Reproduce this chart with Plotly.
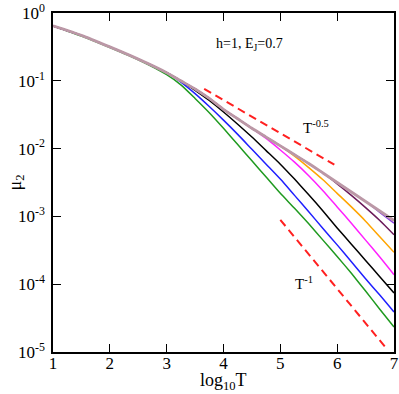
import numpy as np
import plotly.graph_objects as go

# log10(T) sample points
log_t = [1, 1.5, 2, 2.5, 3, 3.25, 3.5, 3.75, 4, 4.25, 4.5, 4.75, 5,
         5.25, 5.5, 5.75, 6, 6.25, 6.5, 6.75, 7]

# log10(mu_2), one list per curve
mu_gray = [-0.19, -0.33, -0.50, -0.68, -0.88, -1.00, -1.12, -1.26, -1.42, -1.56, -1.70,
           -1.83, -1.96, -2.09, -2.22, -2.36, -2.50, -2.64, -2.78, -2.92, -3.06]
mu_violet = [-0.19, -0.33, -0.50, -0.68, -0.88, -1.00, -1.12, -1.26, -1.42, -1.56, -1.70,
             -1.83, -1.96, -2.09, -2.22, -2.36, -2.50, -2.64, -2.78, -2.94, -3.10]
mu_maroon = [-0.19, -0.33, -0.50, -0.68, -0.88, -1.00, -1.12, -1.26, -1.42, -1.56, -1.70,
             -1.83, -1.96, -2.09, -2.22, -2.36, -2.52, -2.69, -2.87, -3.06, -3.27]
mu_orange = [-0.19, -0.33, -0.50, -0.68, -0.88, -1.00, -1.12, -1.26, -1.42, -1.56, -1.70,
             -1.83, -1.96, -2.11, -2.28, -2.46, -2.66, -2.86, -3.07, -3.30, -3.53]
mu_magenta = [-0.19, -0.33, -0.50, -0.68, -0.88, -1.00, -1.12, -1.26, -1.42, -1.56, -1.70,
              -1.85, -2.02, -2.20, -2.40, -2.62, -2.86, -3.10, -3.35, -3.60, -3.86]
mu_black = [-0.19, -0.33, -0.50, -0.68, -0.88, -1.00, -1.14, -1.29, -1.46, -1.64, -1.83,
            -2.03, -2.23, -2.45, -2.68, -2.92, -3.17, -3.41, -3.65, -3.89, -4.13]
mu_blue = [-0.19, -0.33, -0.50, -0.68, -0.88, -1.02, -1.19, -1.38, -1.58, -1.79, -2.01,
           -2.23, -2.45, -2.69, -2.93, -3.18, -3.42, -3.67, -3.92, -4.16, -4.41]
mu_green = [-0.19, -0.34, -0.51, -0.69, -0.91, -1.06, -1.26, -1.47, -1.70, -1.94, -2.18,
            -2.42, -2.66, -2.88, -3.11, -3.35, -3.59, -3.84, -4.10, -4.37, -4.63]

# guide lines (log10 T, mu_2)
guide_half_x = [3.66, 5.95]
guide_half_y = [0.076, 0.0058]
guide_one_x = [5.0, 6.89]
guide_one_y = [8.9e-4, 1.07e-5]

curves = [
    (mu_green, "#1f9a1f", 1.5),
    (mu_blue, "#1f1fff", 1.5),
    (mu_black, "#000000", 1.5),
    (mu_magenta, "#ff1fff", 1.5),
    (mu_orange, "#ffa500", 1.5),
    (mu_maroon, "#6b1a5a", 1.5),
    (mu_violet, "#8a3fe0", 1.5),
    (mu_gray, "#bb98a6", 2.8),
]

fig = go.Figure()
for vals, color, width in curves:
    fig.add_trace(go.Scatter(
        x=log_t, y=np.power(10.0, vals), mode="lines",
        line=dict(color=color, width=width, shape="spline", smoothing=0.6),
        showlegend=False,
    ))

for gx, gy in [(guide_half_x, guide_half_y), (guide_one_x, guide_one_y)]:
    fig.add_trace(go.Scatter(
        x=gx, y=gy, mode="lines",
        line=dict(color="#ff2020", width=2, dash="8px,5px"),
        showlegend=False,
    ))

serif = "Liberation Serif, Times New Roman, serif"
axis_style = dict(
    showline=True, linecolor="black", linewidth=1.5, mirror="allticks",
    ticks="inside", ticklen=8, tickwidth=1.3, tickcolor="black",
    showgrid=False, zeroline=False, automargin=False, ticklabeloverflow="allow",
    tickfont=dict(family=serif, size=17, color="black"),
)

fig.update_xaxes(range=[1, 7], tickvals=[1, 2, 3, 4, 5, 6, 7],
                 ticklabelstandoff=-5, **axis_style)
fig.update_yaxes(type="log", range=[-5, 0],
                 tickvals=[1e-5, 1e-4, 1e-3, 1e-2, 1e-1, 1],
                 ticktext=["10<sup>-5</sup>", "10<sup>-4</sup>", "10<sup>-3</sup>",
                           "10<sup>-2</sup>", "10<sup>-1</sup>", "10<sup>0</sup>"],
                 ticklabelstandoff=3, **axis_style)

title_font = dict(family=serif, size=18, color="black")
fig.add_annotation(xref="paper", yref="paper", x=0.5, y=0, yshift=-29,
                   xanchor="center", yanchor="middle",
                   text="log<sub>10</sub>T", showarrow=False, font=title_font)
fig.add_annotation(xref="paper", yref="paper", x=0, y=0.5, xshift=-37,
                   xanchor="center", yanchor="middle",
                   text="μ<sub>2</sub>", textangle=-90, showarrow=False, font=title_font)

fig.add_annotation(x=4.45, y=np.log10(0.34), text="h=1, E<sub>J</sub>=0.7", showarrow=False,
                   font=dict(family=serif, size=14, color="black"))
fig.add_annotation(x=5.63, y=np.log10(0.021), text="T<sup>-0.5</sup>", showarrow=False,
                   font=dict(family=serif, size=15, color="black"))
fig.add_annotation(x=5.41, y=np.log10(1.05e-4), text="T<sup>-1</sup>", showarrow=False,
                   font=dict(family=serif, size=15, color="black"))

fig.update_layout(
    width=399, height=394,
    margin=dict(l=53, r=5, t=13, b=42),
    paper_bgcolor="white", plot_bgcolor="white",
)

# drop the default page margin so the figure sits at the window's corner
fig.write_html("out.html", config={"displayModeBar": False},
               post_script="document.body.style.margin = '0px';")
